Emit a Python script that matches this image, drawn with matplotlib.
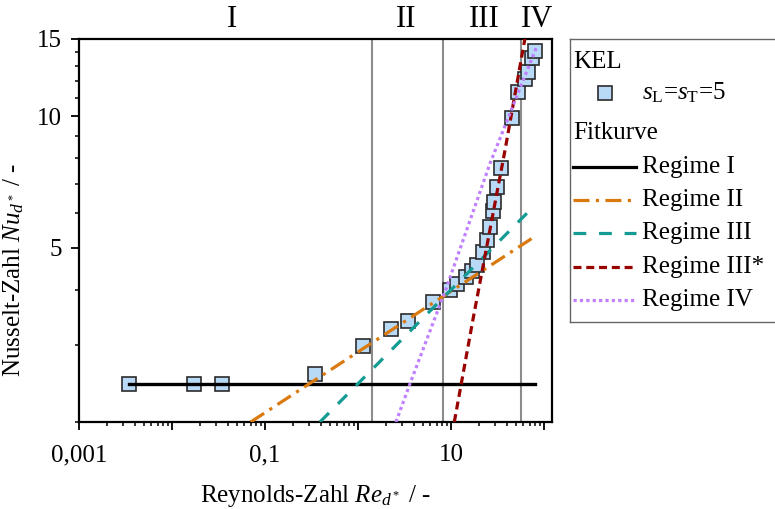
import numpy as np
import matplotlib
matplotlib.use('Agg')
import matplotlib.pyplot as plt
import matplotlib.ticker as ticker
import matplotlib.transforms as mtrans

plt.rcParams['font.family'] = 'Liberation Serif'
plt.rcParams['mathtext.fontset'] = 'custom'
plt.rcParams['mathtext.rm'] = 'Liberation Serif'
plt.rcParams['mathtext.it'] = 'Liberation Serif:italic'

# KEL Messpunkte s_L = s_T = 5
re_kel = [0.00348, 0.0174, 0.0348, 0.345, 1.14, 2.26, 3.47, 6.45, 9.75, 11.5,
          14.4, 16.7, 18.9, 21.9, 24.2, 26.3, 28.1, 29.0, 31.5, 34.5,
          45.0, 53.0, 62.5, 67.8, 74.8, 80.0]
nu_kel = [2.44, 2.44, 2.44, 2.57, 2.98, 3.26, 3.41, 3.76, 4.01, 4.14,
          4.29, 4.43, 4.58, 4.89, 5.20, 5.58, 6.06, 6.37, 6.89, 7.59,
          9.88, 11.37, 12.13, 12.63, 13.55, 14.10]

re_fit1 = [0.00348, 80.0]
nu_fit1 = [2.44, 2.44]
re_fit2 = [0.0702, 80.0]
nu_fit2 = [2.0, 5.31]
re_fit3 = [0.39, 80.0]
nu_fit3 = [2.0, 6.26]
re_fit3s = [10.85, 17.4, 38.1, 64.0]
nu_fit3s = [2.0, 3.47, 8.36, 15.5]
re_fit4 = [2.56, 3.62, 8.99, 26.3, 83.4]
nu_fit4 = [2.0, 2.445, 4.07, 7.80, 14.41]

# Regimegrenzen und Beschriftung
re_grenzen = [1.40, 8.14, 56.6]
regime_namen = ['I', 'II', 'III', 'IV']
regime_x = [0.0445, 3.26, 22.6, 85.1]

x_ticks = [0.001, 0.01, 0.1, 1, 10, 100]
x_ticklabels = ['0,001', '', '0,1', '', '10', '']
y_ticks = [5, 10, 15]
y_ticklabels = ['5', '10', '15']

c_or = '#DA790E'
c_te = '#149B93'
c_rd = '#990000'
c_pu = '#BF7FFF'
c_sq = '#B9DAF7'

fig = plt.figure(figsize=(7.75, 5.09), dpi=100)
ax = fig.add_axes([79/775, 1-422/509, 472.7/775, 383/509])
ax.set_xscale('log')
ax.set_yscale('log')

for g in re_grenzen:
    ax.axvline(g, color='#8C8C8C', lw=1.5, zorder=1)

ax.plot(re_kel, nu_kel, 's', ms=10.5, mfc=c_sq, mec='#2B2B2B', mew=1.2, zorder=2)

ax.plot(re_fit1, nu_fit1, color='black', lw=2.4, zorder=3)
ax.plot(re_fit2, nu_fit2, color=c_or, lw=2.3, ls=(0, (5, 2, 1, 2)), zorder=3)
ax.plot(re_fit3, nu_fit3, color=c_te, lw=2.3, ls=(0, (4, 4)), zorder=3)
ax.plot(re_fit3s, nu_fit3s, color=c_rd, lw=2.3, ls=(0, (2.5, 1.5)), zorder=3)
ax.plot(re_fit4, nu_fit4, color=c_pu, lw=2.3, ls=(0, (1, 1)), zorder=3)

ax.set_xlim(0.001, 121)
ax.set_ylim(2, 15)

ax.xaxis.set_major_locator(ticker.FixedLocator(x_ticks))
ax.xaxis.set_major_formatter(ticker.FixedFormatter(x_ticklabels))
ax.xaxis.set_minor_locator(ticker.LogLocator(base=10, subs=np.arange(2, 10)))
ax.xaxis.set_minor_formatter(ticker.NullFormatter())
ax.yaxis.set_major_locator(ticker.FixedLocator(y_ticks))
ax.yaxis.set_major_formatter(ticker.FixedFormatter(y_ticklabels))
ax.yaxis.set_minor_locator(ticker.FixedLocator([2, 3, 4, 6, 7, 8, 9, 11, 12, 13, 14]))
ax.yaxis.set_minor_formatter(ticker.NullFormatter())

ax.tick_params(which='major', direction='out', length=6, width=1.3, labelsize=18, pad=6)
ax.tick_params(axis='x', which='major', pad=10)
ax.tick_params(which='minor', direction='out', length=3, width=1.1)
for s in ['top', 'bottom', 'left', 'right']:
    ax.spines[s].set_linewidth(1.6)

ax.set_xlabel(r'Reynolds-Zahl $Re_{d^*}$ / -', fontsize=18)
ax.xaxis.set_label_coords(0.5, -0.16)
ax.set_ylabel(r'Nusselt-Zahl $Nu_{d^*}$ / -', fontsize=18)
ax.yaxis.set_label_coords(-0.112, 0.397)

trans = mtrans.blended_transform_factory(ax.transData, ax.transAxes)
for name, xr in zip(regime_namen, regime_x):
    ax.text(xr, 1.052, name, transform=trans, ha='center', va='center', fontsize=22)

# Legende von Hand
lax = fig.add_axes([570/775, 1-322/509, 210/775, 283/509])
lax.set_xlim(570, 780)
lax.set_ylim(322, 39)
lax.set_xticks([])
lax.set_yticks([])
for s in ['top', 'bottom', 'left', 'right']:
    lax.spines[s].set_color('#666666')
    lax.spines[s].set_linewidth(1.0)
lax.patch.set_alpha(0)

lax.text(573, 62, 'KEL', fontsize=18, va='center')
lax.plot([605], [93], 's', ms=10.5, mfc=c_sq, mec='#2B2B2B', mew=1.2)
lax.text(642, 93, r'$s_\mathrm{L}$=$s_\mathrm{T}$=5', fontsize=18, va='center')
lax.text(573, 133, 'Fitkurve', fontsize=18, va='center')

leg_y = [167, 200, 233, 267, 300]
leg_lab = ['Regime I', 'Regime II', 'Regime III', 'Regime III*', 'Regime IV']
leg_sty = [('black', '-'), (c_or, (0, (5, 2, 1, 2))), (c_te, (0, (4, 4))),
           (c_rd, (0, (2.5, 1.5))), (c_pu, (0, (1, 1)))]
for yy, lab, (col, ls) in zip(leg_y, leg_lab, leg_sty):
    lax.plot([573, 636], [yy, yy], color=col, ls=ls, lw=2.3)
    lax.text(642, yy, lab, fontsize=18, va='center')

fig.savefig('out.png', dpi=100)
